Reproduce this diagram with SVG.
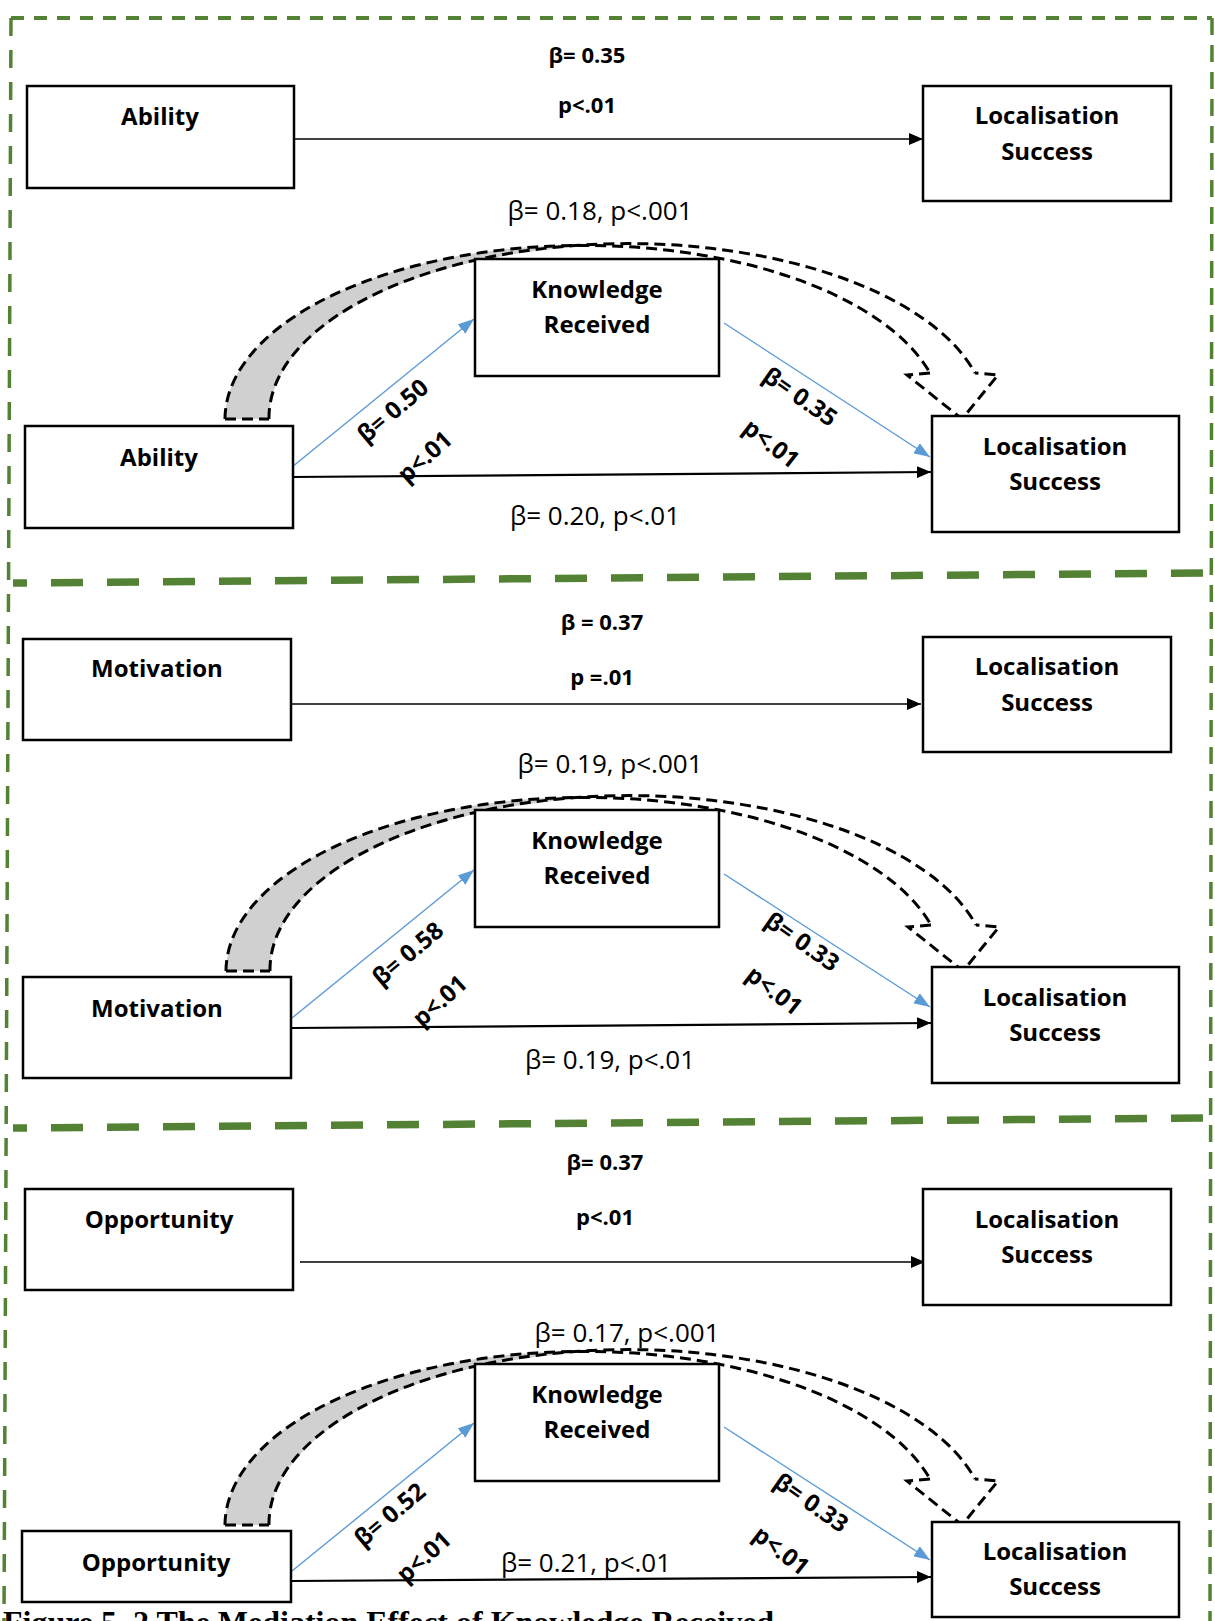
<svg xmlns="http://www.w3.org/2000/svg" xmlns:xlink="http://www.w3.org/1999/xlink" width="1215" height="1621" viewBox="0 0 1215 1621">
<style>
.box{fill:#fff;stroke:#000;stroke-width:2.5}
.nl{font-family:"Open Sans","Liberation Sans",sans-serif;font-weight:bold;font-size:24px;text-anchor:middle;fill:#000}
.reg{font-family:"Open Sans","Liberation Sans",sans-serif;font-size:26px;text-anchor:middle;fill:#000}
.cf{font-family:"Open Sans","Liberation Sans",sans-serif;font-weight:bold;font-size:22px;text-anchor:middle;fill:#000}
.rt{font-family:"Open Sans","Liberation Sans",sans-serif;font-weight:bold;font-size:24px;text-anchor:middle;fill:#000}
.blk{fill:none;stroke:#000;stroke-width:2.2;marker-end:url(#ah)}
.blk1{fill:none;stroke:#000;stroke-width:1.6;marker-end:url(#ah)}
.blu{fill:none;stroke:#5B9BD5;stroke-width:1.4;marker-end:url(#bh)}
.crv{fill:none;stroke:#000;stroke-width:3;stroke-dasharray:11 6}
.shade{fill:#d0d0d0;stroke:none}
.grn{fill:none;stroke:#548235}
.cap{font-family:"Liberation Serif",serif;font-weight:bold;font-size:32px;fill:#000}
</style>
<defs>
<marker id="ah" markerUnits="userSpaceOnUse" markerWidth="14" markerHeight="12" refX="14" refY="6" orient="auto"><path d="M0,0 L14,6 L0,12 Z" fill="#000"/></marker>
<marker id="bh" markerUnits="userSpaceOnUse" markerWidth="16" markerHeight="12" refX="16" refY="6" orient="auto"><path d="M0,0 L16,6 L0,12 Z" fill="#5B9BD5"/></marker>
<g id="curve">
<path class="shade" d="M225,419 A359,174 0 0 1 606,245.3 A359,174 0 0 0 269,419 Z"/>
<path class="crv" d="M225,419 A359,174 0 0 1 930,373"/>
<path class="crv" d="M269,419 A359,174 0 0 1 975,373"/>
<path class="crv" d="M225,419 L269,419"/>
<path class="crv" d="M930,373 L907,375 L962,419 L998,375 L975,373"/>
</g>
</defs>
<rect width="1215" height="1621" fill="#fff"/>

<g id="frame">
<line class="grn" x1="11" y1="18" x2="1212" y2="18" stroke-width="4" stroke-dasharray="13 10"/>
<line class="grn" x1="11" y1="18" x2="4" y2="1621" stroke-width="3.5" stroke-dasharray="18 14"/>
<line class="grn" x1="1212" y1="18" x2="1210" y2="1621" stroke-width="3.5" stroke-dasharray="17 10"/>
<line class="grn" x1="13" y1="583" x2="1205" y2="573" stroke-width="7.5" stroke-dasharray="32 24" stroke-dashoffset="18"/>
<line class="grn" x1="13" y1="1128" x2="1205" y2="1118" stroke-width="7.5" stroke-dasharray="32 24" stroke-dashoffset="18"/>
</g>

<g id="connectors">
<use xlink:href="#curve" href="#curve"/>
<use xlink:href="#curve" href="#curve" x="1" y="552"/>
<use xlink:href="#curve" href="#curve" x="0" y="1106"/>
<path class="blk1" d="M294,139 L923,139"/>
<path class="blk" d="M292,477 L931,472"/>
<path class="blu" d="M292,467 L474,319"/>
<path class="blu" d="M724,323 L930,457"/>
<path class="blk1" d="M288,704 L921,704"/>
<path class="blk" d="M292,1028 L931,1023"/>
<path class="blu" d="M292,1018 L474,870"/>
<path class="blu" d="M724,874 L930,1007"/>
<path class="blk1" d="M300,1262 L925,1262"/>
<path class="blk" d="M292,1581 L931,1577"/>
<path class="blu" d="M292,1571 L474,1423"/>
<path class="blu" d="M724,1427 L930,1560"/>
</g>

<g id="labels">
<text class="cf" x="587" y="63">β= 0.35</text>
<text class="cf" x="587" y="113">p&lt;.01</text>
<text class="reg" x="600" y="220">β= 0.18, p&lt;.001</text>
<text class="reg" x="595" y="525">β= 0.20, p&lt;.01</text>
<text class="rt" transform="translate(393,411) rotate(-40)" y="8">β= 0.50</text>
<text class="rt" transform="translate(425,457) rotate(-42)" y="8">p&lt;.01</text>
<text class="rt" transform="translate(800,397) rotate(35)" y="8">β= 0.35</text>
<text class="rt" transform="translate(771,444) rotate(38)" y="8">p&lt;.01</text>

<text class="cf" x="602" y="630">β = 0.37</text>
<text class="cf" x="602" y="685">p =.01</text>
<text class="reg" x="610" y="773">β= 0.19, p&lt;.001</text>
<text class="reg" x="610" y="1069">β= 0.19, p&lt;.01</text>
<text class="rt" transform="translate(408,954) rotate(-40)" y="8">β= 0.58</text>
<text class="rt" transform="translate(440,1001) rotate(-42)" y="8">p&lt;.01</text>
<text class="rt" transform="translate(802,942) rotate(35)" y="8">β= 0.33</text>
<text class="rt" transform="translate(774,991) rotate(38)" y="8">p&lt;.01</text>

<text class="cf" x="605" y="1170">β= 0.37</text>
<text class="cf" x="605" y="1225">p&lt;.01</text>
<text class="reg" x="627" y="1342">β= 0.17, p&lt;.001</text>
<text class="reg" x="586" y="1572">β= 0.21, p&lt;.01</text>
<text class="rt" transform="translate(390,1515) rotate(-40)" y="8">β= 0.52</text>
<text class="rt" transform="translate(424,1557) rotate(-42)" y="8">p&lt;.01</text>
<text class="rt" transform="translate(811,1503) rotate(35)" y="8">β= 0.33</text>
<text class="rt" transform="translate(781,1551) rotate(38)" y="8">p&lt;.01</text>
</g>

<g id="ability-1"><rect class="box" x="27" y="86" width="267" height="102"/><text class="nl" x="160" y="125">Ability</text></g>
<g id="success-1a"><rect class="box" x="923" y="86" width="248" height="115"/><text class="nl" x="1047" y="124">Localisation</text><text class="nl" x="1047" y="160">Success</text></g>
<g id="knowledge-1"><rect class="box" x="475" y="259" width="244" height="117"/><text class="nl" x="597" y="298">Knowledge</text><text class="nl" x="597" y="333">Received</text></g>
<g id="ability-2"><rect class="box" x="25" y="426" width="268" height="102"/><text class="nl" x="159" y="466">Ability</text></g>
<g id="success-1b"><rect class="box" x="932" y="416" width="247" height="116"/><text class="nl" x="1055" y="455">Localisation</text><text class="nl" x="1055" y="490">Success</text></g>

<g id="motivation-1"><rect class="box" x="23" y="639" width="268" height="101"/><text class="nl" x="157" y="677">Motivation</text></g>
<g id="success-2a"><rect class="box" x="923" y="637" width="248" height="115"/><text class="nl" x="1047" y="675">Localisation</text><text class="nl" x="1047" y="711">Success</text></g>
<g id="knowledge-2"><rect class="box" x="475" y="810" width="244" height="117"/><text class="nl" x="597" y="849">Knowledge</text><text class="nl" x="597" y="884">Received</text></g>
<g id="motivation-2"><rect class="box" x="23" y="977" width="268" height="101"/><text class="nl" x="157" y="1017">Motivation</text></g>
<g id="success-2b"><rect class="box" x="932" y="967" width="247" height="116"/><text class="nl" x="1055" y="1006">Localisation</text><text class="nl" x="1055" y="1041">Success</text></g>

<g id="opportunity-1"><rect class="box" x="25" y="1189" width="268" height="101"/><text class="nl" x="159" y="1228">Opportunity</text></g>
<g id="success-3a"><rect class="box" x="923" y="1189" width="248" height="116"/><text class="nl" x="1047" y="1228">Localisation</text><text class="nl" x="1047" y="1263">Success</text></g>
<g id="knowledge-3"><rect class="box" x="475" y="1364" width="244" height="117"/><text class="nl" x="597" y="1403">Knowledge</text><text class="nl" x="597" y="1438">Received</text></g>
<g id="opportunity-2"><rect class="box" x="22" y="1531" width="269" height="71"/><text class="nl" x="156" y="1571">Opportunity</text></g>
<g id="success-3b"><rect class="box" x="932" y="1522" width="247" height="95"/><text class="nl" x="1055" y="1560">Localisation</text><text class="nl" x="1055" y="1595">Success</text></g>

<text class="cap" x="3" y="1633">Figure 5. 2 The Mediation Effect of Knowledge Received</text>
</svg>
